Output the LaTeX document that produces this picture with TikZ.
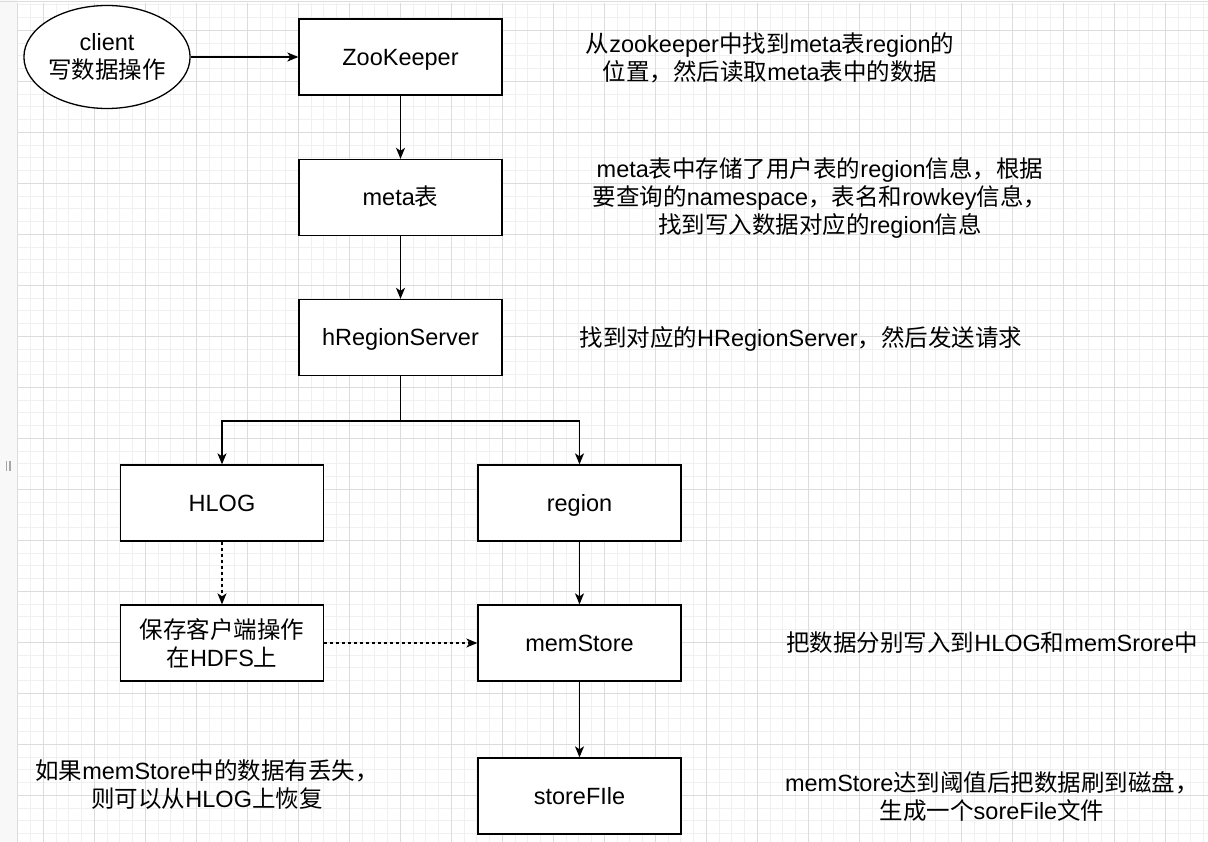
\documentclass[tikz,border=0pt]{standalone}
\usepackage{fontspec}
\setmainfont{Liberation Sans}
\newfontfamily\cjkfont{Noto Sans CJK SC}
\newfontfamily\latinfont{Liberation Sans}
\usetikzlibrary{shapes.geometric,arrows.meta}
\XeTeXinterchartokenstate=1
\newXeTeXintercharclass\CJKcls
\newcount\cjkc
\cjkc="21 \loop \XeTeXcharclass\cjkc=0 \ifnum\cjkc<"7E \advance\cjkc by 1 \repeat
\cjkc="3000 \loop \XeTeXcharclass\cjkc=\CJKcls \ifnum\cjkc<"303F \advance\cjkc by 1 \repeat
\cjkc="4E00 \loop \XeTeXcharclass\cjkc=\CJKcls \ifnum\cjkc<"9FFF \advance\cjkc by 1 \repeat
\cjkc="FF00 \loop \XeTeXcharclass\cjkc=\CJKcls \ifnum\cjkc<"FFEF \advance\cjkc by 1 \repeat
\XeTeXinterchartoks 0 \CJKcls={\cjkfont}
\XeTeXinterchartoks 4095 \CJKcls={\cjkfont}
\XeTeXinterchartoks \CJKcls 0={\latinfont}
\XeTeXinterchartoks \CJKcls 4095={\latinfont}
\definecolor{gminor}{HTML}{F0F0F0}
\definecolor{gmajor}{HTML}{DCDCDC}
\definecolor{strip}{HTML}{F8F8F8}
\tikzset{
  box/.style={draw=black, fill=white, line width=1.3pt, minimum width=203pt, minimum height=76pt, align=center, font=\fontsize{23.5pt}{28pt}\selectfont},
  onel/.style={text height=20pt, text depth=3pt},
  lbl/.style={align=center, font=\fontsize{23.5pt}{28pt}\selectfont},
  conn/.style={line width=1.3pt, -{Stealth[length=11pt,width=9pt,inset=3pt]}},
  dconn/.style={conn, dash pattern=on 3pt off 3pt},
}
\begin{document}
\begin{tikzpicture}[x=1pt,y=-1pt]
\useasboundingbox (0,0) rectangle (1208,842);
% background
\fill[white] (0,0) rectangle (1208,842);
\fill[strip] (0,0) rectangle (17,842);
\foreach \i in {0,...,94}{\draw[gminor,line width=0.9pt] ({17.8+12.75*\i},3) -- ({17.8+12.75*\i},842);}
\foreach \j in {0,...,65}{\draw[gminor,line width=0.9pt] (17,{4.8+12.75*\j}) -- (1208,{4.8+12.75*\j});}
\foreach \i in {2,6,...,94}{\draw[gmajor,line width=0.9pt] ({17.8+12.75*\i},3) -- ({17.8+12.75*\i},842);}
\foreach \j in {2,6,...,65}{\draw[gmajor,line width=0.9pt] (17,{4.8+12.75*\j}) -- (1208,{4.8+12.75*\j});}
\draw[gmajor,line width=1pt] (0,2) -- (1208,2);
\draw[gmajor,line width=0.9pt] (17.3,3) -- (17.3,842);
\fill[gray!70] (6,461) rectangle (7.4,471);
\fill[gray!70] (9.2,461) rectangle (10.6,471);
% nodes
\node[draw=black, fill=white, line width=1.3pt, ellipse, minimum width=154pt, minimum height=103pt, inner sep=0pt, lbl] (client) at (107,57) {client\\写数据操作};
\node[box,onel] (zk) at (400.5,57) {ZooKeeper};
\node[box,onel] (meta) at (400.5,197.5) {meta表};
\node[box,onel] (hrs) at (400.5,337.5) {hRegionServer};
\node[box,onel] (hlog) at (222,503) {HLOG};
\node[box,onel] (region) at (579.5,503) {region};
\node[box] (save) at (222,643) {保存客户端操作\\在HDFS上};
\node[box,onel] (mem) at (579.5,643) {memStore};
\node[box,onel] (store) at (579.5,796) {storeFIle};
\coordinate (split) at (400.5,421);
% connectors
\draw[conn] (client) -- (zk);
\draw[conn] (zk) -- (meta);
\draw[conn] (meta) -- (hrs);
\draw[line width=1.3pt] (hrs.south) -- (split);
\draw[conn] (split) -| (hlog.north);
\draw[conn] (split) -| (region.north);
\draw[dconn] (hlog) -- (save);
\draw[dconn] (save) -- (mem);
\draw[conn] (region) -- (mem);
\draw[conn] (mem) -- (store);
% annotations
\node[lbl] (t1) at (770,58) {从zookeeper中找到meta表region的\\位置，然后读取meta表中的数据};
\node[lbl] (t2) at (820,198) {meta表中存储了用户表的region信息，根据\\要查询的namespace，表名和rowkey信息，\\找到写入数据对应的region信息};
\node[lbl] (t3) at (801,339) {找到对应的HRegionServer，然后发送请求};
\node[lbl] (t4) at (992,643) {把数据分别写入到HLOG和memSrore中};
\node[lbl] (t5) at (207,785) {如果memStore中的数据有丢失，\\则可以从HLOG上恢复};
\node[lbl] (t6) at (992,797) {memStore达到阈值后把数据刷到磁盘，\\生成一个soreFile文件};
\end{tikzpicture}
\end{document}
